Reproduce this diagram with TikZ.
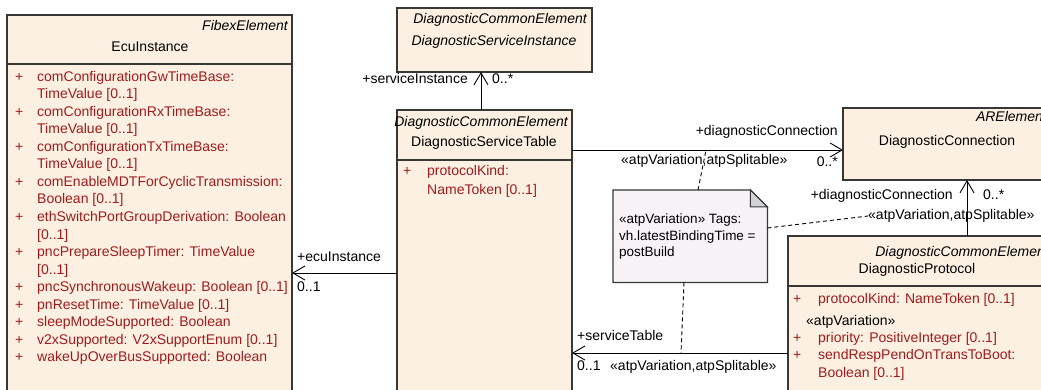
\documentclass[tikz,border=0pt]{standalone}
\usepackage{fontspec}
\setmainfont{Liberation Sans}
\usetikzlibrary{arrows.meta}

\definecolor{classfill}{RGB}{251,240,226}
\definecolor{boxline}{RGB}{55,55,55}
\definecolor{attrred}{RGB}{160,28,28}
\definecolor{notefill}{RGB}{246,242,246}
\definecolor{notefold}{RGB}{212,210,214}

\begin{document}
\begin{tikzpicture}[x=1pt,y=-1pt,
	every node/.style={font=\fontsize{14}{17.5}\selectfont,inner sep=0pt,text height=10pt,text depth=3pt},
	classbox/.style={draw=boxline,line width=1.3pt,fill=classfill,outer sep=0pt,anchor=north west},
	stereo/.style={font=\fontsize{14}{17.5}\selectfont\itshape,anchor=east},
	attr/.style={text=attrred,anchor=west},
	assoc/.style={line width=.9pt,-{Straight Barb[length=12pt,width=14pt]}},
	link/.style={line width=.9pt,dash pattern=on 4pt off 3pt}]

	\path[use as bounding box,clip] (0,0) rectangle (1041,390);

	% classes
	\node[classbox,minimum width=285,minimum height=390] (ecu) at (7,15) {};
	\node[classbox,minimum width=195,minimum height=64] (dsi) at (397,8) {};
	\node[classbox,minimum width=175,minimum height=290] (dst) at (397,110) {};
	\node[classbox,minimum width=208,minimum height=72] (dc) at (843,108) {};
	\node[classbox,minimum width=258,minimum height=170] (dp) at (788,236) {};

	% header lines
	\draw[boxline,line width=1.3pt] (ecu.west |- 0,64) -- (ecu.east |- 0,64);
	\draw[boxline,line width=1.3pt] (dst.west |- 0,160) -- (dst.east |- 0,160);
	\draw[boxline,line width=1.3pt] (dp.west |- 0,286) -- (dp.east |- 0,286);

	% class names
	\node[stereo] at (288,27) {FibexElement};
	\node at (150,48) {EcuInstance};
	\node[stereo] at (587,20) {DiagnosticCommonElement};
	\node[font=\fontsize{14}{17.5}\selectfont\itshape] at (494,42) {DiagnosticServiceInstance};
	\node[stereo] at (568,123) {DiagnosticCommonElement};
	\node at (484,143) {DiagnosticServiceTable};
	\node[stereo] at (1047,118) {ARElement};
	\node at (947,142) {DiagnosticConnection};
	\node[stereo] at (1049,253) {DiagnosticCommonElement};
	\node at (917,270) {DiagnosticProtocol};

	% attributes
	\foreach \p/\t [count=\i from 0] in {+/comConfigurationGwTimeBase:, /TimeValue [0..1],
		+/comConfigurationRxTimeBase:, /TimeValue [0..1],
		+/comConfigurationTxTimeBase:, /TimeValue [0..1],
		+/comEnableMDTForCyclicTransmission:, /Boolean [0..1],
		+/ethSwitchPortGroupDerivation: Boolean, /[0..1],
		+/pncPrepareSleepTimer: TimeValue, /[0..1],
		+/pncSynchronousWakeup: Boolean [0..1],
		+/pnResetTime: TimeValue [0..1],
		+/sleepModeSupported: Boolean,
		+/v2xSupported: V2xSupportEnum [0..1],
		+/wakeUpOverBusSupported: Boolean}{
		\node[attr] at (15,78+17.5*\i) {\p};
		\node[attr] at (37,78+17.5*\i) {\t};
	}
	\node[attr] at (403,172) {+};
	\node[attr] at (427,172) {protocolKind:};
	\node[attr] at (427,191) {NameToken [0..1]};

	\node[attr] at (793,300) {+};
	\node[attr] at (818,300) {protocolKind: NameToken [0..1]};
	\node[anchor=west] at (806,322) {«atpVariation»};
	\node[attr] at (793,339) {+};
	\node[attr] at (818,339) {priority: PositiveInteger [0..1]};
	\node[attr] at (793,356) {+};
	\node[attr] at (818,356) {sendRespPendOnTransToBoot:};
	\node[attr] at (818,374) {Boolean [0..1]};

	% note
	\node[minimum width=154,minimum height=92,anchor=north west] (note) at (613,190) {};
	\filldraw[fill=notefill,draw=boxline,line width=1.3pt] (note.north west) -- ([xshift=-17pt]note.north east)
		-- ([yshift=-17pt]note.north east) -- (note.south east) -- (note.south west) -- cycle;
	\filldraw[fill=notefold,draw=boxline,line width=1pt] ([xshift=-17pt]note.north east)
		-- ([xshift=-17pt,yshift=-17pt]note.north east) -- ([yshift=-17pt]note.north east) -- cycle;
	\node[anchor=west,font=\fontsize{13.5}{16.5}\selectfont] at (619,220) {«atpVariation» Tags:};
	\node[anchor=west,font=\fontsize{13.5}{16.5}\selectfont] at (619,237) {vh.latestBindingTime =};
	\node[anchor=west,font=\fontsize{13.5}{16.5}\selectfont] at (619,253) {postBuild};

	% associations
	\draw[assoc] (481,0 |- dst.north) -- (481,0 |- dsi.south);
	\node[anchor=east] at (468,80) {+serviceInstance};
	\node[anchor=west] at (492,80) {0..*};

	\draw[assoc] (dst.east |- 0,150) -- (dc.west |- 0,150);
	\node[anchor=east] at (838,132) {+diagnosticConnection};
	\node[anchor=east] at (838,163) {0..*};
	\node[anchor=west] at (621,161) {«atpVariation,atpSplitable»};

	\draw[assoc] (967,0 |- dp.north) -- (967,0 |- dc.south);
	\node[anchor=east] at (953,196) {+diagnosticConnection};
	\node[anchor=west] at (983,196) {0..*};
	\node[anchor=west] (splitdp) at (868,216) {«atpVariation,atpSplitable»};

	\draw[assoc] (dp.west |- 0,353) -- (dst.east |- 0,353);
	\node[anchor=west] at (577,337) {+serviceTable};
	\node[anchor=west] at (577,367) {0..1};
	\node[anchor=west] at (610,367) {«atpVariation,atpSplitable»};

	\draw[assoc] (dst.west |- 0,273) -- (ecu.east |- 0,273);
	\node[anchor=west] at (297,258) {+ecuInstance};
	\node[anchor=west] at (297,288) {0..1};

	% note links
	\draw[link] (698,0 |- note.north) -- (706,150);
	\draw[link] (684,0 |- note.south) -- (681,353);
	\draw[link] (note.east |- 0,228) -- (splitdp.west);
\end{tikzpicture}
\end{document}
